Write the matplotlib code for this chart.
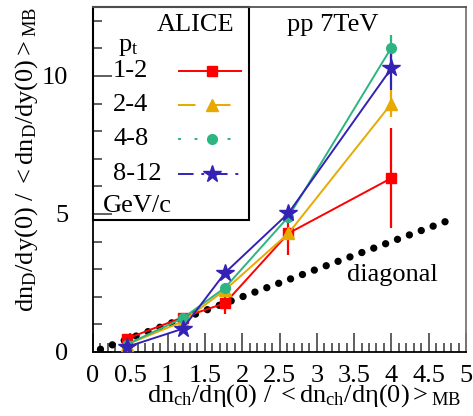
import matplotlib
matplotlib.use("Agg")
import matplotlib.pyplot as plt
from matplotlib.lines import Line2D
from matplotlib.patches import Rectangle
from matplotlib.ticker import MultipleLocator

plt.rcParams['font.family'] = ['Liberation Serif', 'DejaVu Serif']
plt.rcParams['mathtext.fontset'] = 'custom'
plt.rcParams['mathtext.rm'] = 'Liberation Serif'
plt.rcParams['mathtext.it'] = 'Liberation Serif:italic'

# ---- data ----
mult_x = [0.45, 1.2, 1.77, 2.62, 4.0]
pt_labels = ["1-2", "2-4", "4-8", "8-12"]
y_12 = [0.48, 1.25, 1.77, 4.3, 6.3]
e_12 = [0.0, 0.0, 0.4, 0.8, 1.8]
y_24 = [0.27, 1.1, 2.25, 4.3, 9.0]
e_24 = [0.0, 0.0, 0.0, 0.0, 0.5]
y_48 = [0.27, 1.22, 2.33, 4.9, 11.03]
e_48 = [0.0, 0.0, 0.0, 0.0, 0.47]
y_812 = [0.18, 0.84, 2.87, 5.03, 10.28]
e_812 = [0.0, 0.0, 0.0, 0.0, 0.8]
diag_x = [0.1, 4.8]
diag_y = [0.1, 4.8]

series = [
    (y_12, e_12, '#ff0000', 's', 7, (0, ()), ),
    (y_24, e_24, '#e6aa00', '^', 8, (0, (9, 9))),
    (y_48, e_48, '#2db482', 'o', 7, (0, (1.5, 7))),
    (y_812, e_812, '#3322b4', '*', 13, (0, (8, 4, 1.5, 4))),
]

fig = plt.figure(figsize=(4.73, 4.16), dpi=100)
ax = fig.add_axes([93/473, (416-352)/416, (466-93)/473, (352-7)/416])
ax.set_xlim(0, 5)
ax.set_ylim(0, 12.5)

# diagonal as thick dotted line
ax.plot(diag_x, diag_y, color='black', lw=5.3, linestyle=(0, (0.001, 1.72)),
        dash_capstyle='round', solid_capstyle='round', zorder=2)

for yv, ev, col, mk, ms, ls in series:
    ax.errorbar(mult_x, yv, yerr=ev, color=col, marker=mk, markersize=ms,
                lw=1.4, elinewidth=1.6, capsize=0, zorder=3)

# axis styling
for s in ax.spines.values():
    s.set_linewidth(1.3)
ax.spines['top'].set_color('#555555')
ax.spines['right'].set_color('#777777')
ax.xaxis.set_major_locator(MultipleLocator(0.5))
ax.xaxis.set_minor_locator(MultipleLocator(0.1))
ax.yaxis.set_major_locator(MultipleLocator(5))
ax.yaxis.set_minor_locator(MultipleLocator(1))
ax.tick_params(which='both', direction='in', top=False, right=False, labelsize=19, width=1.2, color='#444444')
ax.tick_params(which='major', length=14)
ax.tick_params(which='minor', length=6.5)
ax.tick_params(axis='y', which='major', pad=18)
ax.tick_params(axis='x', which='major', pad=9)
ax.set_xticks([0, 0.5, 1, 1.5, 2, 2.5, 3, 3.5, 4, 4.5, 5])
ax.set_xticklabels(['0', '0.5', '1', '1.5', '2', '2.5', '3', '3.5', '4', '4.5', '5'])

ax.set_xlabel(r'$\mathregular{dn_{ch}/d\eta(0)\ /\ <dn_{ch}/d\eta(0)>_{MB}}$',
              fontsize=19, loc='right')
ax.xaxis.set_label_coords(0.989, -0.088)
ax.set_ylabel(r'$\mathregular{dn_D/dy(0)\ /\ <dn_D/dy(0)>_{MB}}$',
              fontsize=19, loc='top')
ax.yaxis.set_label_coords(-0.142, 1.0)

# legend box
ax.add_patch(Rectangle((0, 0.383), 0.418, 0.617, transform=ax.transAxes,
                       facecolor='white', edgecolor='black', lw=1.5, zorder=1.5,
                       clip_on=False))
ax.text(0.172, 0.948, 'ALICE', transform=ax.transAxes, fontsize=19, va='center', ha='left', zorder=4)
ax.text(0.067, 0.885, r'$\mathregular{p_t}$', transform=ax.transAxes, fontsize=19, va='center', ha='left', zorder=4)
rows_y = [0.815, 0.717, 0.618, 0.517]
for (yv, ev, col, mk, ms, ls), lab, ry in zip(series, pt_labels, rows_y):
    ax.text(0.054, ry, lab, transform=ax.transAxes, fontsize=19, va='center', ha='left', zorder=4)
    ax.add_line(Line2D([0.228, 0.399], [ry, ry], transform=ax.transAxes, color=col,
                       lw=1.4, linestyle=ls, zorder=4))
    ax.add_line(Line2D([0.319], [ry], transform=ax.transAxes, color=col, marker=mk,
                       markersize=ms, linestyle='none', zorder=4))
ax.text(0.027, 0.423, 'GeV/c', transform=ax.transAxes, fontsize=19, va='center', ha='left', zorder=4)

ax.text(0.52, 0.948, 'pp 7TeV', transform=ax.transAxes, fontsize=19, va='center', ha='left')
ax.text(0.681, 0.223, 'diagonal', transform=ax.transAxes, fontsize=19, va='center', ha='left')

fig.savefig('out.png', dpi=100)
